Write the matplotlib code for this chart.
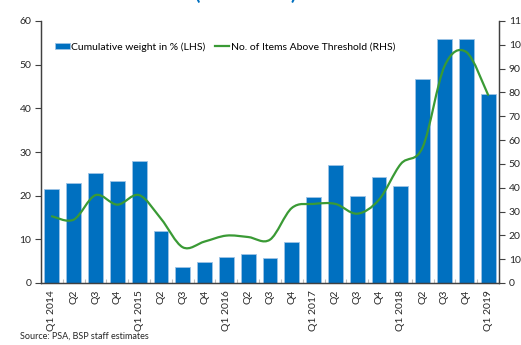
import numpy as np
import matplotlib.pyplot as plt
from matplotlib.path import Path
from matplotlib.patches import PathPatch
from matplotlib.lines import Line2D
from matplotlib.ticker import MultipleLocator

plt.rcParams['font.family'] = ['Lato', 'DejaVu Sans']

# donnees
quarters = ['Q1 2014', 'Q2', 'Q3', 'Q4',
            'Q1 2015', 'Q2', 'Q3', 'Q4',
            'Q1 2016', 'Q2', 'Q3', 'Q4',
            'Q1 2017', 'Q2', 'Q3', 'Q4',
            'Q1 2018', 'Q2', 'Q3', 'Q4',
            'Q1 2019']
weight = [21.5, 22.8, 25.2, 23.4, 28.0, 11.8, 3.6, 4.8, 6.0, 6.6, 5.7,
          9.5, 19.6, 27.0, 19.9, 24.2, 22.2, 46.7, 55.9, 55.8, 43.2]
items = [28.0, 26.6, 36.9, 32.9, 36.9, 27.0, 15.0, 17.4, 19.9, 19.3, 18.2,
         31.5, 33.2, 33.2, 29.1, 35.0, 50.0, 57.0, 91.0, 97.0, 79.0]

blue = '#0070C0'
green = '#3A9A35'
dark = '#404040'


# courbe lissee facon Excel (Bezier type Catmull-Rom)
def smooth_path(xs, ys):
    pts = np.column_stack([xs, ys]).astype(float)
    n = len(pts)
    verts = [pts[0]]
    codes = [Path.MOVETO]
    for i in range(n - 1):
        p0 = pts[i - 1] if i > 0 else pts[i]
        p3 = pts[i + 2] if i + 2 < n else pts[i + 1]
        c1 = pts[i] + (pts[i + 1] - p0) / 6
        c2 = pts[i + 1] - (p3 - pts[i]) / 6
        verts += [c1, c2, pts[i + 1]]
        codes += [Path.CURVE4] * 3
    return Path(verts, codes)


fig = plt.figure(figsize=(5.21, 3.45), dpi=100)
ax = fig.add_axes([41 / 521, 1 - 283 / 345, 458 / 521, 262 / 345])
ax2 = ax.twinx()

x = np.arange(len(quarters))
bars = ax.bar(x, weight, width=0.68, color=blue, edgecolor='#9DC3E6',
              linewidth=0.6, label='Cumulative weight in % (LHS)', zorder=2)

ax2.add_patch(PathPatch(smooth_path(x, items), facecolor='none',
                        edgecolor=green, linewidth=1.6, capstyle='round',
                        joinstyle='round', zorder=3))

ax.set_xlim(-0.5, len(quarters) - 0.5)
ax.set_ylim(0, 60)
ax2.set_ylim(0, 110)
ax.yaxis.set_major_locator(MultipleLocator(10))
ax2.yaxis.set_major_locator(MultipleLocator(10))

ax.set_xticks(x)
ax.set_xticklabels(quarters, rotation=90, fontsize=7.5, color='#262626')
ax.set_xticks(np.arange(-0.5, len(quarters)), minor=True)
ax.tick_params(axis='x', which='major', length=0, pad=5)
ax.tick_params(axis='x', which='minor', direction='in', length=3,
               color='#BFBFBF', width=0.8)
ax.tick_params(axis='y', labelsize=7.5, length=4, color=dark,
               labelcolor='#262626', pad=3)
ax2.tick_params(axis='y', labelsize=7.5, length=4, color=dark,
                labelcolor='#262626', pad=3)

for a in (ax, ax2):
    a.spines['top'].set_visible(False)
    for s in ('left', 'right', 'bottom'):
        a.spines[s].set_color(dark)
        a.spines[s].set_linewidth(0.9)

# ax2 au-dessus mais transparent
ax.set_zorder(1)
ax2.set_zorder(2)
ax2.patch.set_visible(False)

handles = [bars, Line2D([], [], color=green, linewidth=1.6)]
labels = ['Cumulative weight in % (LHS)', 'No. of Items Above Threshold (RHS)']
ax2.legend(handles, labels, loc='center left',
           bbox_to_anchor=(14 / 458, 236 / 262), frameon=False, ncol=2,
           fontsize=7.5, handlelength=1.4, handleheight=0.6,
           handletextpad=0.15, columnspacing=0.9, borderpad=0,
           borderaxespad=0)

# titre coupe en haut
fig.text(197 / 521, 1.0, '(', color=blue, fontsize=14, fontweight='bold',
         ha='center', va='baseline')
fig.text(293 / 521, 1.0, ')', color=blue, fontsize=14, fontweight='bold',
         ha='center', va='baseline')

fig.text(20 / 521, 1 - 336 / 345, 'Source: PSA, BSP staff estimates',
         fontsize=6.5, color='#262626', ha='left', va='center')

plt.savefig('out.png', dpi=100)
